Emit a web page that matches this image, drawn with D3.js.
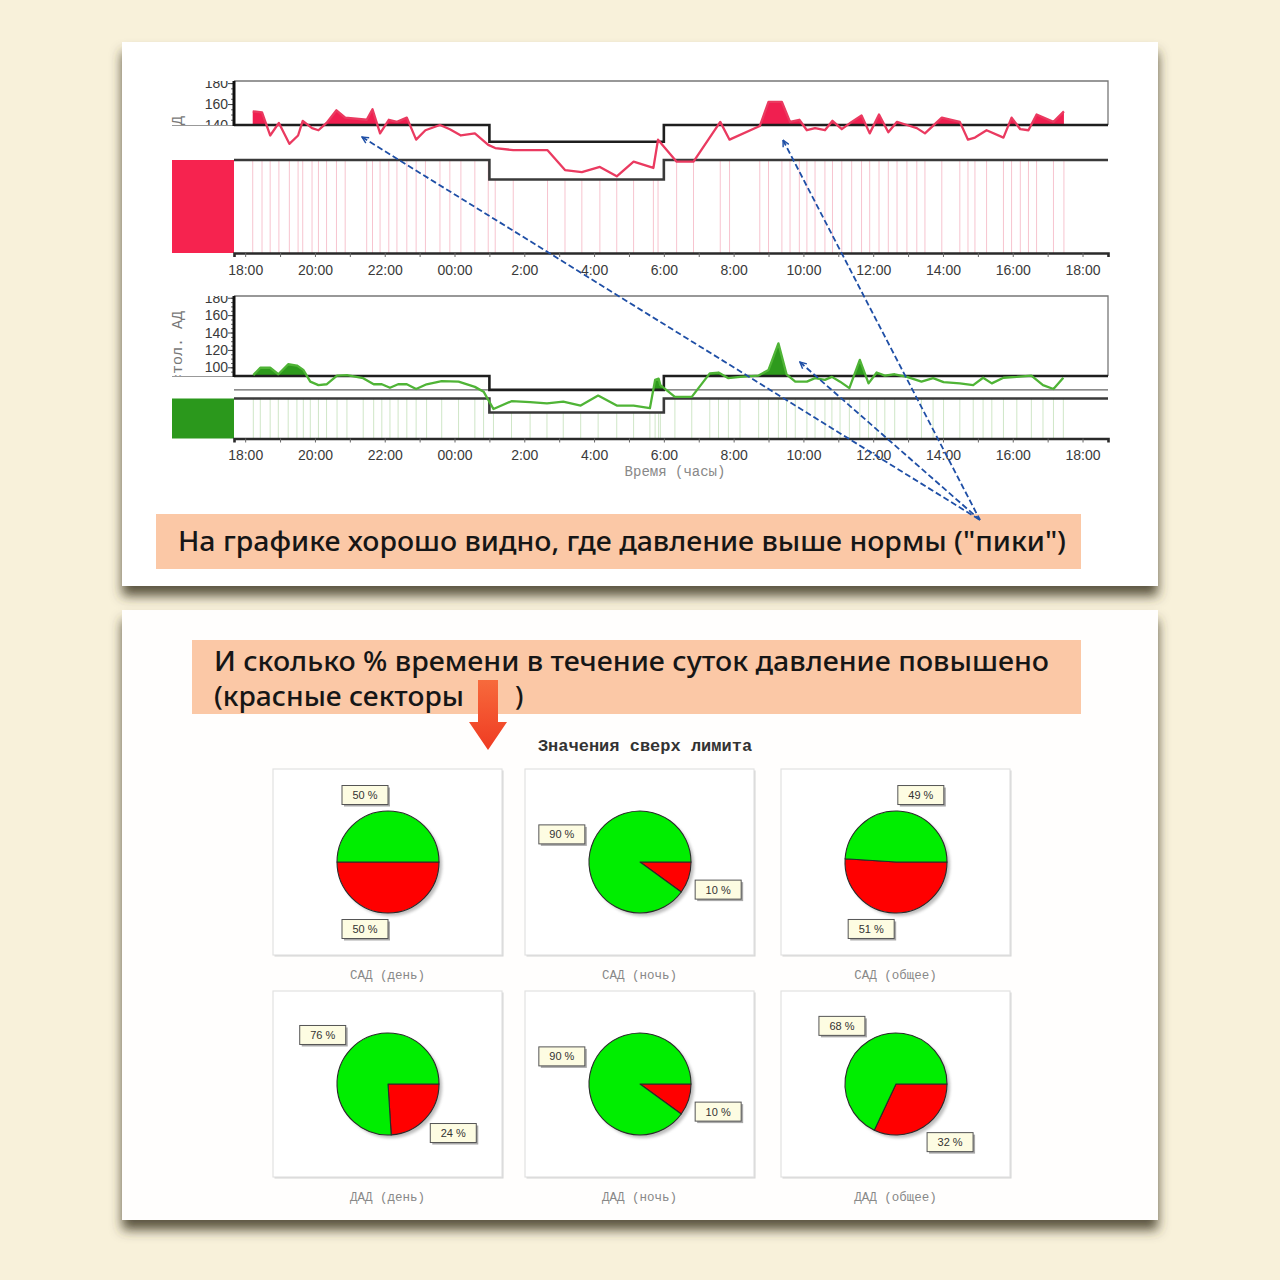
<!DOCTYPE html>
<html>
<head>
<meta charset="utf-8">
<script src="https://cdn.jsdelivr.net/npm/d3@7"></script>
<style>
  body { margin: 0; background: #f8f1da; }
  svg { display: block; }
</style>
</head>
<body>
<div id="chart"></div>
<script>
// ---- data ----
// systolic pressure (САД), measurement clock times and values
var sadTimes = ["18:13","18:29","18:43","18:58","19:16","19:31","19:39","19:55","20:06","20:20","20:37","20:52",
  "21:29","21:39","21:52","22:07","22:21","22:38","22:54","23:10","23:35","23:52","00:11","00:35","00:58","01:10",
  "01:41","02:40","03:10","03:39","04:10","04:39","05:08","05:42","05:50","06:22","06:51","07:37","07:53","08:45",
  "09:00","09:23","09:37","09:53","10:06","10:20","10:37","10:50","11:06","11:23","11:40","11:54","12:10","12:26",
  "12:41","12:58","13:15","13:29","13:58","14:29","14:43","14:55","15:15","15:44","15:58","16:13","16:27","16:41",
  "17:10","17:28"];
var sadValues = [153,152,130,142,122,130,144,137,135,142,154,147,
  145,155,132,145,143,147,126,135,140,136,130,132,121,118,
  116,116,97,95,100,91,105,99,126,105,105,143,126,139,
  162,162,143,145,135,137,135,144,136,143,149,132,150,133,
  143,140,137,132,147,143,126,128,135,128,147,136,135,150,
  143,153];

// diastolic pressure (ДАД)
var dadTimes = ["18:14","18:26","18:43","18:57","19:14","19:29","19:40","19:52","20:06","20:20","20:38","20:55",
  "21:23","21:41","21:55","22:09","22:23","22:38","22:54","23:12","23:38","00:07","00:35","00:50","01:07","01:38",
  "02:10","02:39","03:07","03:37","04:07","04:39","05:08","05:36","05:45","05:51","05:54","06:19","06:48","07:19",
  "07:34","07:51","08:11","08:43","09:00","09:17","09:31","09:46","10:06","10:20","10:37","10:49","11:03","11:19",
  "11:37","11:52","12:06","12:20","12:37","12:58","13:23","13:43","14:01","14:29","14:52","15:09","15:24","15:44",
  "16:07","16:32","16:52","17:10","17:27"];
var dadValues = [91,99.5,99.5,92,103.5,102,97,83.5,79.5,80.5,90.5,91,
  87.5,80.5,80.5,76.5,80.5,80.5,75,80.5,84,83.5,77.5,72,52,61,
  60,58.5,60.5,56,67.5,56,56,53,85.5,87,79.5,66,66,93,
  94,87.5,89,90.5,97,127.5,92,83.5,83.5,87.5,85.5,89,83.5,76,
  108.5,81.5,94,90.5,92,89,83.5,87.5,83,81.5,79.5,88,81.5,88,
  89,90.5,79.5,75,88];

// limits: [day, night] and the night period
var sadLimits = [140, 124];
var dadLimits = [90, 74];
var nightPeriod = ["01:00", "06:00"];

// time axis (hours after 18:00)
var hourDomain = [-0.32, 24.73];
var tickLabels = ["18:00","20:00","22:00","00:00","2:00","4:00","6:00","8:00","10:00","12:00","14:00","16:00","18:00"];

// arrow targets of the annotation
var arrowTargets = [
  { chart: "sad", time: "21:21", value: 128.5 },
  { chart: "sad", time: "09:25", value: 125.5 },
  { chart: "dad", time: "09:54", value: 106 }
];

// pies: share of time above limit
var pieTitles = ["САД (день)", "САД (ночь)", "САД (общее)", "ДАД (день)", "ДАД (ночь)", "ДАД (общее)"];
var pieOver   = [50, 10, 51, 24, 10, 32];
var pieNormal = [50, 90, 49, 76, 90, 68];

// ---- helpers ----
function toHours(s){
  var p = s.split(":");
  var h = +p[0] + (+p[1]) / 60 - 18;
  if (h < 0) h += 24;
  return h;
}

var W = 1280, H = 1280;
var svg = d3.select("#chart").append("svg")
  .attr("width", W).attr("height", H)
  .style("font-family", "'Liberation Sans', Arial, sans-serif");

var defs = svg.append("defs");

var cardShadow = defs.append("filter").attr("id", "cardShadow")
  .attr("x", "-5%").attr("y", "-5%").attr("width", "110%").attr("height", "120%");
cardShadow.append("feDropShadow").attr("dx", 0).attr("dy", 10).attr("stdDeviation", 6)
  .attr("flood-color", "#3f3a26").attr("flood-opacity", 0.85);

var softBlur = defs.append("filter").attr("id", "softBlur");
softBlur.append("feGaussianBlur").attr("stdDeviation", 1.5);

defs.append("marker").attr("id", "arrowHead")
  .attr("viewBox", "0 0 10 10").attr("refX", 9).attr("refY", 5)
  .attr("markerWidth", 8).attr("markerHeight", 8)
  .attr("orient", "auto-start-reverse").attr("markerUnits", "userSpaceOnUse")
  .append("path").attr("d", "M1,1 L9,5 L1,9")
  .attr("fill", "none").attr("stroke", "#1f4fa6").attr("stroke-width", 1.8);

var redArrowGrad = defs.append("linearGradient").attr("id", "redArrowGrad")
  .attr("x1", 0).attr("y1", 0).attr("x2", 0).attr("y2", 1);
redArrowGrad.append("stop").attr("offset", "0%").attr("stop-color", "#f76a3c");
redArrowGrad.append("stop").attr("offset", "100%").attr("stop-color", "#ef3b22");

// background + cards
svg.append("rect").attr("width", W).attr("height", H).attr("fill", "#f8f1da");
svg.append("rect").attr("x", 122).attr("y", 42).attr("width", 1036).attr("height", 544)
  .attr("fill", "#ffffff").attr("filter", "url(#cardShadow)");
svg.append("rect").attr("x", 122).attr("y", 610).attr("width", 1036).attr("height", 610)
  .attr("fill", "#fffefd").attr("filter", "url(#cardShadow)");

// ---- pressure charts ----
var x = d3.scaleLinear().domain(hourDomain).range([234, 1108]);
var nightStart = toHours(nightPeriod[0]), nightEnd = toHours(nightPeriod[1]);

function isNight(h){ return h >= nightStart && h < nightEnd; }

function drawPressure(cfg){
  var g = svg.append("g");
  var y = d3.scaleLinear().domain(cfg.domain).range([cfg.limitY, cfg.top]);
  var pts = cfg.times.map(function(t, i){ return { h: toHours(t), v: cfg.values[i] }; });

  // limit step line
  var limitPts = [
    { h: hourDomain[0], v: cfg.limits[0] },
    { h: nightStart, v: cfg.limits[1] },
    { h: nightEnd, v: cfg.limits[0] },
    { h: hourDomain[1], v: cfg.limits[0] }
  ];
  var stepLine = d3.line().x(function(d){ return x(d.h); }).y(function(d){ return y(d.v); })
    .curve(d3.curveStepAfter);

  // measurement strip
  var bandPts = [
    { h: hourDomain[0], y: cfg.bandDay },
    { h: nightStart, y: cfg.bandNight },
    { h: nightEnd, y: cfg.bandDay },
    { h: hourDomain[1], y: cfg.bandDay }
  ];
  g.selectAll(".tickmark").data(pts).enter().append("line")
    .attr("x1", function(d){ return x(d.h); }).attr("x2", function(d){ return x(d.h); })
    .attr("y1", function(d){ return isNight(d.h) ? cfg.bandNight : cfg.bandDay; })
    .attr("y2", cfg.bandBottom)
    .attr("stroke", cfg.tickColor).attr("stroke-width", 1);
  g.append("rect").attr("x", 172).attr("y", cfg.bandDay)
    .attr("width", x(hourDomain[0]) - 172).attr("height", cfg.bandBottom - cfg.bandDay)
    .attr("fill", cfg.block);
  g.append("path").datum(bandPts)
    .attr("d", d3.line().x(function(d){ return x(d.h); }).y(function(d){ return d.y; }).curve(d3.curveStepAfter))
    .attr("fill", "none").attr("stroke", "#3a3a3a").attr("stroke-width", 2.6);

  // x axis
  var xAxis = d3.axisBottom(x).tickValues(d3.range(0, 25, 1)).tickSize(4)
    .tickFormat(function(d){ return d % 2 === 0 ? tickLabels[d / 2] : ""; });
  var ax = g.append("g").attr("transform", "translate(0," + cfg.bandBottom + ")").call(xAxis);
  ax.select(".domain").attr("stroke", "#2a2a2a").attr("stroke-width", 2.6);
  ax.selectAll(".tick line").attr("stroke", "#666");
  ax.selectAll("text").attr("font-size", 14).attr("fill", "#3a3a3a").attr("dy", "1.05em");

  // plot box
  g.append("path")
    .attr("d", "M" + x(hourDomain[0]) + "," + cfg.top + "H" + x(hourDomain[1]) + "V" + cfg.limitY)
    .attr("fill", "none").attr("stroke", "#777").attr("stroke-width", 1.3);
  if (cfg.nightLine) {
    g.append("line").attr("x1", x(hourDomain[0])).attr("x2", x(hourDomain[1]))
      .attr("y1", y(cfg.limits[1])).attr("y2", y(cfg.limits[1]))
      .attr("stroke", "#666").attr("stroke-width", 1.2);
  }

  // area above limit
  var clipId = "above-" + cfg.name;
  defs.append("clipPath").attr("id", clipId).append("path")
    .attr("d", stepLine(limitPts) + "L" + x(hourDomain[1]) + "," + (cfg.top - 20) + "L" + x(hourDomain[0]) + "," + (cfg.top - 20) + "Z");
  g.append("path").datum(pts)
    .attr("d", d3.area().x(function(d){ return x(d.h); }).y0(cfg.bandBottom).y1(function(d){ return y(d.v); }))
    .attr("fill", cfg.fill).attr("clip-path", "url(#" + clipId + ")");

  g.append("path").datum(limitPts).attr("d", stepLine)
    .attr("fill", "none").attr("stroke", "#1e1e1e").attr("stroke-width", 2.6);

  g.append("path").datum(pts)
    .attr("d", d3.line().x(function(d){ return x(d.h); }).y(function(d){ return y(d.v); }))
    .attr("fill", "none").attr("stroke", cfg.line).attr("stroke-width", 2.3).attr("stroke-linejoin", "round");

  // y axis, clipped to the box
  var yClip = "yclip-" + cfg.name;
  defs.append("clipPath").attr("id", yClip).append("rect")
    .attr("x", 150).attr("y", cfg.top).attr("width", 90).attr("height", cfg.limitY - cfg.top);
  var yg = g.append("g").attr("clip-path", "url(#" + yClip + ")");
  var minor = yg.append("g").attr("transform", "translate(" + x(hourDomain[0]) + ",0)")
    .call(d3.axisLeft(y).tickValues(d3.range(cfg.domain[0], cfg.domain[1] + 1, 5)).tickSize(3).tickFormat(""));
  minor.select(".domain").remove();
  minor.selectAll("line").attr("stroke", "#666");
  var major = yg.append("g").attr("transform", "translate(" + x(hourDomain[0]) + ",0)")
    .call(d3.axisLeft(y).tickValues(cfg.yTicks).tickSize(6));
  major.select(".domain").remove();
  major.selectAll("line").attr("stroke", "#444");
  major.selectAll("text").attr("font-size", 14).attr("fill", "#3a3a3a").attr("x", -6);

  g.append("line").attr("x1", 172).attr("x2", x(hourDomain[0]))
    .attr("y1", cfg.limitY + 0.5).attr("y2", cfg.limitY + 0.5).attr("stroke", "#999").attr("stroke-width", 1);
  g.append("line").attr("x1", x(hourDomain[0])).attr("x2", x(hourDomain[0]))
    .attr("y1", cfg.top).attr("y2", cfg.limitY + 1).attr("stroke", "#111").attr("stroke-width", 3);

  // rotated axis title, clipped
  var tClip = "tclip-" + cfg.name;
  defs.append("clipPath").attr("id", tClip).append("rect")
    .attr("x", 160).attr("y", cfg.top).attr("width", 30).attr("height", cfg.limitY - cfg.top);
  g.append("g").attr("clip-path", "url(#" + tClip + ")")
    .append("text").attr("transform", "translate(182," + cfg.titleEnd + ") rotate(-90)")
    .attr("text-anchor", "end")
    .style("font-family", "'Liberation Mono', 'Courier New', monospace")
    .attr("font-size", 15).attr("fill", "#777").text(cfg.title);

  return y;
}

var ySad = drawPressure({
  name: "sad", times: sadTimes, values: sadValues, limits: sadLimits,
  domain: [140, 182], yTicks: [140, 160, 180], top: 81, limitY: 125,
  bandDay: 160, bandNight: 179.5, bandBottom: 253,
  fill: "#f01f50", line: "#ea3a60", block: "#f6234f", tickColor: "#f7c4cf",
  title: "Систол. АД", titleEnd: 116, nightLine: false
});

var yDad = drawPressure({
  name: "dad", times: dadTimes, values: dadValues, limits: dadLimits,
  domain: [90, 182], yTicks: [100, 120, 140, 160, 180], top: 296, limitY: 376,
  bandDay: 398.5, bandNight: 412.5, bandBottom: 438.5,
  fill: "#2e9a1d", line: "#4fb436", block: "#2b981c", tickColor: "#cfe6c7",
  title: "Диастол. АД", titleEnd: 311, nightLine: true
});

svg.append("text").attr("x", 675).attr("y", 476).attr("text-anchor", "middle")
  .style("font-family", "'Liberation Mono', 'Courier New', monospace")
  .attr("font-size", 14).attr("fill", "#888").text("Время (часы)");

// callout 1
var calloutFont = "'Noto Sans', 'Open Sans', sans-serif";
svg.append("rect").attr("x", 156).attr("y", 514).attr("width", 925).attr("height", 55).attr("fill", "#fbc8a6");
svg.append("text").attr("x", 178).attr("y", 551)
  .style("font-family", calloutFont).attr("font-weight", 500)
  .attr("font-size", 27).attr("fill", "#161616")
  .attr("textLength", 888).attr("lengthAdjust", "spacingAndGlyphs")
  .text("На графике хорошо видно, где давление выше нормы (\"пики\")");

// dashed arrows
var arrowOrigin = [980, 520];
svg.selectAll(".arrow").data(arrowTargets).enter().append("line")
  .attr("x1", function(d){ return x(toHours(d.time)); })
  .attr("y1", function(d){ return (d.chart === "sad" ? ySad : yDad)(d.value); })
  .attr("x2", arrowOrigin[0]).attr("y2", arrowOrigin[1])
  .attr("stroke", "#1f4fa6").attr("stroke-width", 1.8).attr("stroke-dasharray", "6,3")
  .attr("marker-start", "url(#arrowHead)");

// ---- second card ----
svg.append("rect").attr("x", 192).attr("y", 640).attr("width", 889).attr("height", 74).attr("fill", "#fbc8a6");
var c2 = svg.append("text").style("font-family", calloutFont).attr("font-weight", 500)
  .attr("font-size", 27).attr("fill", "#161616");
c2.append("tspan").attr("x", 214).attr("y", 671)
  .attr("textLength", 835).attr("lengthAdjust", "spacingAndGlyphs")
  .text("И сколько % времени в течение суток давление повышено");
c2.append("tspan").attr("x", 214).attr("y", 706)
  .attr("textLength", 250).attr("lengthAdjust", "spacingAndGlyphs")
  .text("(красные секторы");
c2.append("tspan").attr("x", 515).attr("y", 706).text(")");

svg.append("path")
  .attr("d", "M478,680 H498 V722 H507 L488,750 L469,722 H478 Z")
  .attr("fill", "url(#redArrowGrad)");

svg.append("text").attr("x", 645).attr("y", 751).attr("text-anchor", "middle")
  .style("font-family", "'Liberation Mono', 'Courier New', monospace")
  .attr("font-size", 17).attr("font-weight", "bold").attr("fill", "#333")
  .text("Значения сверх лимита");

// pies
var panelX = [273, 525, 781], panelY = [769, 991];
var panelW = 229, panelH = 186, R = 51;
var pie = d3.pie().sort(null).startAngle(Math.PI / 2).endAngle(Math.PI / 2 + 2 * Math.PI);
var arc = d3.arc().innerRadius(0).outerRadius(R);

pieTitles.forEach(function(title, i){
  var px = panelX[i % 3], py = panelY[Math.floor(i / 3)];
  var cx = px + panelW / 2 + 0.5, cy = py + panelH / 2;
  var p = svg.append("g");

  p.append("rect").attr("x", px + 1.5).attr("y", py + 1.5).attr("width", panelW).attr("height", panelH)
    .attr("fill", "#d4d4d4");
  p.append("rect").attr("x", px).attr("y", py).attr("width", panelW).attr("height", panelH)
    .attr("fill", "#ffffff").attr("stroke", "#e2e2e2").attr("stroke-width", 1.2);
  p.append("text").attr("x", px + panelW / 2).attr("y", py + panelH + 24).attr("text-anchor", "middle")
    .style("font-family", "'Liberation Mono', 'Courier New', monospace")
    .attr("font-size", 12.5).attr("fill", "#888").text(title);

  var slices = pie([pieOver[i], pieNormal[i]]);
  p.append("circle").attr("cx", cx + 3).attr("cy", cy + 3).attr("r", R)
    .attr("fill", "#888").attr("opacity", 0.55).attr("filter", "url(#softBlur)");
  var pg = p.append("g").attr("transform", "translate(" + cx + "," + cy + ")");
  pg.selectAll("path").data(slices).enter().append("path")
    .attr("d", arc)
    .attr("fill", function(d, k){ return k === 0 ? "#ff0000" : "#00ee00"; })
    .attr("stroke", "#2a2a2a").attr("stroke-width", 1.1).attr("stroke-linejoin", "round");

  // labels
  slices.forEach(function(d){
    var a = (d.startAngle + d.endAngle) / 2;
    var c = Math.sin(a), s = -Math.cos(a);
    var sx = Math.abs(c) < 1e-3 ? -1 : (c > 0 ? 1 : -1);
    var sy = s >= 0 ? 1 : -1;
    var lx = cx + sx * (23 + 58 * Math.abs(c));
    var ly = cy + sy * (10 + 57 * Math.abs(s));
    p.append("rect").attr("x", lx - 23 + 2).attr("y", ly - 9.5 + 2).attr("width", 46).attr("height", 19)
      .attr("fill", "#a9a9a9");
    p.append("rect").attr("x", lx - 23).attr("y", ly - 9.5).attr("width", 46).attr("height", 19)
      .attr("fill", "#fdfce2").attr("stroke", "#555").attr("stroke-width", 1);
    p.append("text").attr("x", lx).attr("y", ly + 4).attr("text-anchor", "middle")
      .attr("font-size", 11).attr("fill", "#333").text(d.value + " %");
  });
});
</script>
</body>
</html>
